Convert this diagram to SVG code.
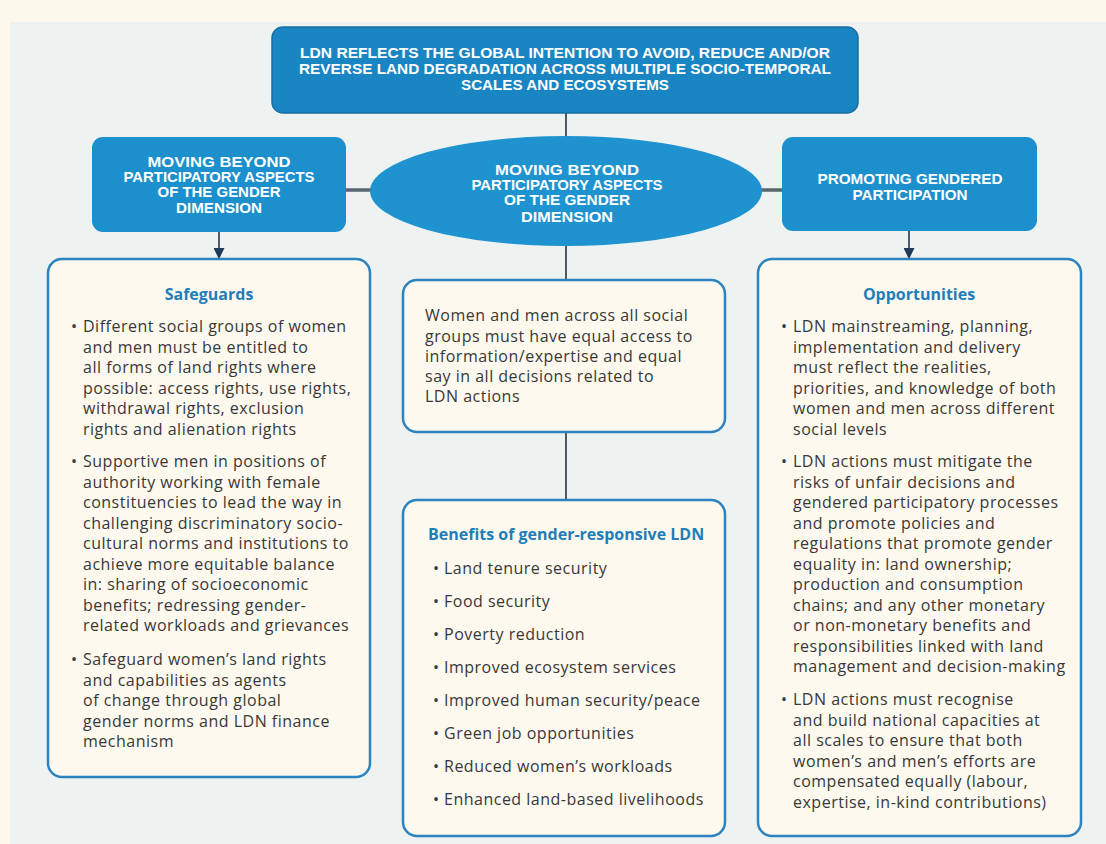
<svg xmlns="http://www.w3.org/2000/svg" width="1106" height="844" viewBox="0 0 1106 844">
<style>
.hd{font-family:"Liberation Sans",Arial,sans-serif;font-weight:bold;font-size:15px;fill:#ffffff;text-anchor:middle}
.bx{fill:#fdf9ef;stroke:#2b84bf;stroke-width:2.5}
.blue{fill:#1c8fcd}
.tx{font-family:"Open Sans","Noto Sans",sans-serif;font-size:16px;letter-spacing:0.5px;fill:#383838}
.ti{font-family:"Open Sans","Noto Sans",sans-serif;font-size:16px;font-weight:bold;fill:#1f7db9}
.ln{stroke:#4a5a66;stroke-width:2;fill:none}
.hb{stroke:#5a6770;stroke-width:3.5;fill:none}
</style>
<defs>
<marker id="ah" viewBox="0 0 10 10" refX="9" refY="5" markerWidth="11" markerHeight="11" markerUnits="userSpaceOnUse" orient="auto">
<path d="M0,0 L10,5 L0,10 z" fill="#1f3b57"/>
</marker>
</defs>
<rect x="0" y="0" width="1106" height="844" fill="#fdf8ec"/>
<rect x="10" y="22" width="1096" height="822" fill="#eef2f0"/>

<g id="connectors">
<line class="ln" x1="566" y1="113" x2="566" y2="137"/>
<line class="hb" x1="346" y1="190" x2="372" y2="190"/>
<line class="hb" x1="760" y1="190" x2="782" y2="190"/>
<line class="ln" x1="219" y1="232" x2="219" y2="258" marker-end="url(#ah)"/>
<line class="ln" x1="909" y1="231" x2="909" y2="258" marker-end="url(#ah)"/>
<line class="ln" x1="566" y1="245" x2="566" y2="280"/>
<line class="ln" x1="566" y1="432" x2="566" y2="500"/>
</g>

<g id="top">
<rect x="272" y="27" width="586" height="86" rx="11" fill="#1a85c3" stroke="#176fa3" stroke-width="1.5"/>
<text class="hd"><tspan x="565" y="58" textLength="530" lengthAdjust="spacingAndGlyphs">LDN REFLECTS THE GLOBAL INTENTION TO AVOID, REDUCE AND/OR</tspan><tspan x="565" y="74" textLength="532" lengthAdjust="spacingAndGlyphs">REVERSE LAND DEGRADATION ACROSS MULTIPLE SOCIO-TEMPORAL</tspan><tspan x="565" y="90" textLength="208" lengthAdjust="spacingAndGlyphs">SCALES AND ECOSYSTEMS</tspan></text>
</g>

<g id="left-head">
<rect class="blue" x="92" y="137" width="254" height="95" rx="11"/>
<text class="hd"><tspan x="219" y="167" textLength="143" lengthAdjust="spacingAndGlyphs">MOVING BEYOND</tspan><tspan x="219" y="182" textLength="191" lengthAdjust="spacingAndGlyphs">PARTICIPATORY ASPECTS</tspan><tspan x="219" y="197" textLength="123" lengthAdjust="spacingAndGlyphs">OF THE GENDER</tspan><tspan x="219" y="213" textLength="86" lengthAdjust="spacingAndGlyphs">DIMENSION</tspan></text>
</g>

<g id="center-ellipse">
<ellipse cx="566" cy="191" rx="196" ry="55" fill="#1e93cf"/>
<text class="hd"><tspan x="567" y="175" textLength="144" lengthAdjust="spacingAndGlyphs">MOVING BEYOND</tspan><tspan x="567" y="190" textLength="191" lengthAdjust="spacingAndGlyphs">PARTICIPATORY ASPECTS</tspan><tspan x="567" y="205" textLength="126" lengthAdjust="spacingAndGlyphs">OF THE GENDER</tspan><tspan x="567" y="222" textLength="92" lengthAdjust="spacingAndGlyphs">DIMENSION</tspan></text>
</g>

<g id="right-head">
<rect class="blue" x="782" y="137" width="255" height="94" rx="11"/>
<text class="hd"><tspan x="910" y="184" textLength="185" lengthAdjust="spacingAndGlyphs">PROMOTING GENDERED</tspan><tspan x="910" y="200" textLength="115" lengthAdjust="spacingAndGlyphs">PARTICIPATION</tspan></text>
</g>

<g id="safeguards">
<rect class="bx" x="48" y="259" width="322" height="518" rx="14"/>
<text class="ti" x="209" y="300" text-anchor="middle">Safeguards</text>
<text class="tx">
<tspan x="71" y="332">•</tspan><tspan x="83" y="332">Different social groups of women</tspan>
<tspan x="83" y="352.5">and men must be entitled to</tspan>
<tspan x="83" y="373">all forms of land rights where</tspan>
<tspan x="83" y="393.5">possible: access rights, use rights,</tspan>
<tspan x="83" y="414">withdrawal rights, exclusion</tspan>
<tspan x="83" y="434.5">rights and alienation rights</tspan>
<tspan x="71" y="467">•</tspan><tspan x="83" y="467">Supportive men in positions of</tspan>
<tspan x="83" y="487.5">authority working with female</tspan>
<tspan x="83" y="508">constituencies to lead the way in</tspan>
<tspan x="83" y="528.5">challenging discriminatory socio-</tspan>
<tspan x="83" y="549">cultural norms and institutions to</tspan>
<tspan x="83" y="569.5">achieve more equitable balance</tspan>
<tspan x="83" y="590">in: sharing of socioeconomic</tspan>
<tspan x="83" y="610.5">benefits; redressing gender-</tspan>
<tspan x="83" y="631">related workloads and grievances</tspan>
<tspan x="71" y="665">•</tspan><tspan x="83" y="665">Safeguard women’s land rights</tspan>
<tspan x="83" y="685.5">and capabilities as agents</tspan>
<tspan x="83" y="706">of change through global</tspan>
<tspan x="83" y="726.5">gender norms and LDN finance</tspan>
<tspan x="83" y="747">mechanism</tspan>
</text>
</g>

<g id="equal-access">
<rect class="bx" x="403" y="280" width="322" height="152" rx="14"/>
<text class="tx">
<tspan x="425" y="321">Women and men across all social</tspan>
<tspan x="425" y="341.5">groups must have equal access to</tspan>
<tspan x="425" y="362">information/expertise and equal</tspan>
<tspan x="425" y="382">say in all decisions related to</tspan>
<tspan x="425" y="402">LDN actions</tspan>
</text>
</g>

<g id="benefits">
<rect class="bx" x="403" y="500" width="322" height="336" rx="14"/>
<text class="ti" x="428" y="540">Benefits of gender-responsive LDN</text>
<text class="tx">
<tspan x="433" y="574">•</tspan><tspan x="444" y="574">Land tenure security</tspan>
<tspan x="433" y="607">•</tspan><tspan x="444" y="607">Food security</tspan>
<tspan x="433" y="640">•</tspan><tspan x="444" y="640">Poverty reduction</tspan>
<tspan x="433" y="673">•</tspan><tspan x="444" y="673">Improved ecosystem services</tspan>
<tspan x="433" y="706">•</tspan><tspan x="444" y="706">Improved human security/peace</tspan>
<tspan x="433" y="739">•</tspan><tspan x="444" y="739">Green job opportunities</tspan>
<tspan x="433" y="772">•</tspan><tspan x="444" y="772">Reduced women’s workloads</tspan>
<tspan x="433" y="805">•</tspan><tspan x="444" y="805">Enhanced land-based livelihoods</tspan>
</text>
</g>

<g id="opportunities">
<rect class="bx" x="758" y="259" width="323" height="577" rx="14"/>
<text class="ti" x="919" y="300" text-anchor="middle">Opportunities</text>
<text class="tx">
<tspan x="781" y="332">•</tspan><tspan x="793" y="332">LDN mainstreaming, planning,</tspan>
<tspan x="793" y="352.5">implementation and delivery</tspan>
<tspan x="793" y="373">must reflect the realities,</tspan>
<tspan x="793" y="393.5">priorities, and knowledge of both</tspan>
<tspan x="793" y="414">women and men across different</tspan>
<tspan x="793" y="434.5">social levels</tspan>
<tspan x="781" y="467">•</tspan><tspan x="793" y="467">LDN actions must mitigate the</tspan>
<tspan x="793" y="487.5">risks of unfair decisions and</tspan>
<tspan x="793" y="508">gendered participatory processes</tspan>
<tspan x="793" y="528.5">and promote policies and</tspan>
<tspan x="793" y="549">regulations that promote gender</tspan>
<tspan x="793" y="569.5">equality in: land ownership;</tspan>
<tspan x="793" y="590">production and consumption</tspan>
<tspan x="793" y="610.5">chains; and any other monetary</tspan>
<tspan x="793" y="631">or non-monetary benefits and</tspan>
<tspan x="793" y="651.5">responsibilities linked with land</tspan>
<tspan x="793" y="672">management and decision-making</tspan>
<tspan x="781" y="705">•</tspan><tspan x="793" y="705">LDN actions must recognise</tspan>
<tspan x="793" y="725.5">and build national capacities at</tspan>
<tspan x="793" y="746">all scales to ensure that both</tspan>
<tspan x="793" y="766.5">women’s and men’s efforts are</tspan>
<tspan x="793" y="787">compensated equally (labour,</tspan>
<tspan x="793" y="807.5">expertise, in-kind contributions)</tspan>
</text>
</g>
</svg>
